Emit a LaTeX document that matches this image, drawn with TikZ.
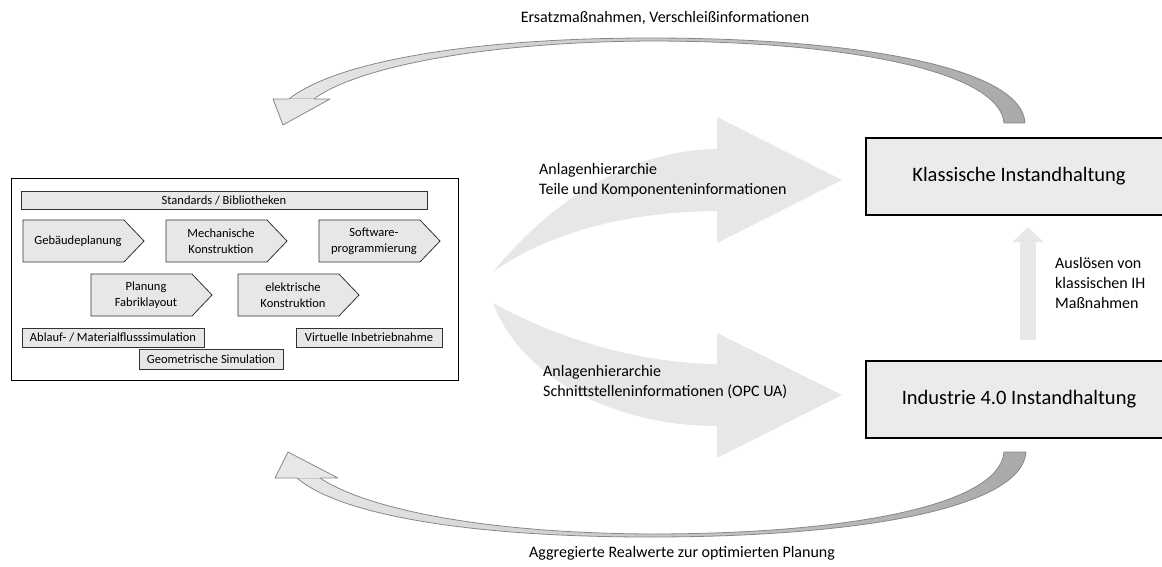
\documentclass[tikz,border=0pt]{standalone}
\usepackage{fontspec}
\setmainfont{Carlito}
\usepackage{tikz}
\usetikzlibrary{positioning, arrows.meta}

\definecolor{lightgrey}{HTML}{E7E7E7}
\definecolor{boxgrey}{HTML}{EBEBEB}
\definecolor{tailgrey}{HTML}{A9A9A9}
\definecolor{edgegrey}{HTML}{888888}

\tikzset{
  txt/.style={font=\fontsize{16}{20}\selectfont, align=left, inner sep=0pt},
  partbox/.style={draw=black!80, fill=lightgrey, line width=0.8pt, inner sep=0pt,
    font=\fontsize{12.5}{16}\selectfont},
  phase/.style={draw=black!80, fill=lightgrey, line width=0.8pt},
  phasetext/.style={font=\fontsize{12.5}{16}\selectfont, align=center, inner sep=0pt},
  ihbox/.style={draw, line width=2pt, fill=boxgrey, minimum width=306pt,
    minimum height=77pt, font=\fontsize{20.5}{24}\selectfont},
  flowarrow/.style={fill=lightgrey},
  shaft/.style={left color=lightgrey, right color=tailgrey, draw=edgegrey, line width=0.8pt},
  headfill/.style={fill=lightgrey},
  headline/.style={draw=edgegrey, line width=0.8pt, line join=round},
}

\begin{document}
\begin{tikzpicture}[x=1pt, y=-1pt]
\useasboundingbox (0,0) rectangle (1162,566);

% big flow arrows in the middle
\path[flowarrow] (493,272) .. controls (560,190) and (640,150) .. (717,149)
  -- (717,117) -- (842,180) -- (717,243) -- (717,211)
  .. controls (620,212) and (545,235) .. (493,272) -- cycle;
\path[flowarrow] (493,303) .. controls (560,340) and (640,363) .. (717,364)
  -- (717,333) -- (842,395) -- (717,458) -- (717,426)
  .. controls (610,426) and (520,375) .. (493,303) -- cycle;

% planning side
\node[draw, line width=1pt, minimum width=447pt, minimum height=202pt, inner sep=0pt] (planung) at (234.5,279) {};
\node[partbox, minimum width=406pt, minimum height=18pt] (standards) at (224,200) {Standards / Bibliotheken};
\foreach \px/\py/\nm/\txt in {23/220/gebaeude/Gebäudeplanung,
    166/220/mechanik/{Mechanische\\Konstruktion},
    319/220/software/{Software-\\programmierung},
    91/274/layout/{Planung\\Fabriklayout},
    238/274/elektrik/{elektrische\\Konstruktion}}{
  \draw[phase] (\px,\py) -- ++(101,0) -- ++(20,21) -- ++(-20,21) -- ++(-101,0) -- cycle;
  \node[phasetext] (\nm) at (\px+55,\py+21) {\txt};
}
\node[partbox, minimum width=182pt, minimum height=19pt] (ablauf) at (113,337.5) {Ablauf- / Materialflusssimulation};
\node[partbox, minimum width=146pt, minimum height=19pt] (vibn) at (369,337.5) {Virtuelle Inbetriebnahme};
\node[partbox, minimum width=144pt, minimum height=20pt] (geometrie) at (211,359) {Geometrische Simulation};

% maintenance side
\node[ihbox] (klassisch) at (1019,176.5) {Klassische Instandhaltung};
\node[ihbox] (industrie) at (1019,399) {Industrie 4.0 Instandhaltung};
\draw[line width=16pt, lightgrey, -{Triangle[width=30pt, length=15pt]},
  shorten <=20pt, shorten >=11pt] ([xshift=9pt]industrie.north) -- ([xshift=9pt]klassisch.south);

% return arrows
\path[shaft] (1025,123) .. controls (1022,68) and (860,38) .. (650,38)
  .. controls (470,38) and (335,62) .. (289,99) -- (314,99)
  .. controls (355,68) and (480,42) .. (650,41)
  .. controls (850,41) and (1000,72) .. (1004,123) -- cycle;
\fill[headfill] (273,99) -- (283,125) -- (330,99) -- cycle;
\draw[headline] (289,99) -- (273,99) -- (283,125) -- (330,99) -- (314,99);

\path[shaft] (1026,452) .. controls (1022,508) and (860,537) .. (650,537)
  .. controls (470,537) and (340,515) .. (297,478) -- (320,478)
  .. controls (365,508) and (480,533) .. (650,534)
  .. controls (850,534) and (1000,505) .. (1004,452) -- cycle;
\fill[headfill] (275,478) -- (288,452) -- (338,478) -- cycle;
\draw[headline] (297,478) -- (275,478) -- (288,452) -- (338,478) -- (320,478);

% labels
\node[txt] (ersatz) at (665,18) {Ersatzmaßnahmen, Verschleißinformationen};
\node[txt] (aggregiert) at (682,553) {Aggregierte Realwerte zur optimierten Planung};
\node[txt, anchor=west] (teile) at (539,180) {Anlagenhierarchie\\Teile und Komponenteninformationen};
\node[txt, anchor=west] (opcua) at (543,382) {Anlagenhierarchie\\Schnittstelleninformationen (OPC UA)};
\node[txt, anchor=west] (ausloesen) at (1055,283) {Auslösen von\\klassischen IH\\Maßnahmen};
\end{tikzpicture}
\end{document}
